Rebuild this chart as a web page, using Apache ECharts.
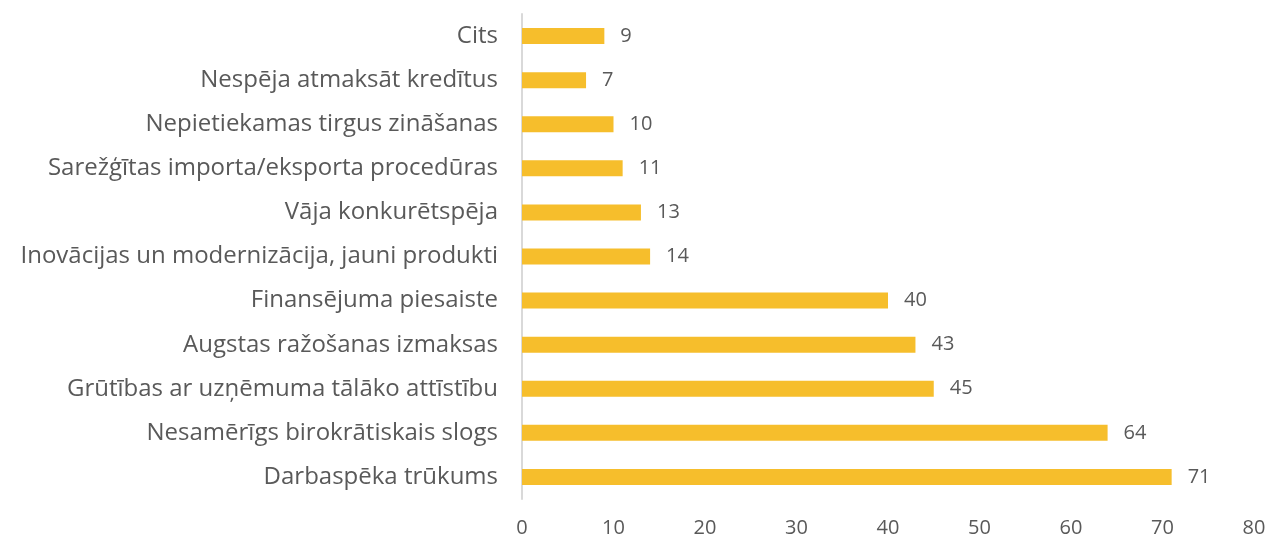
<!DOCTYPE html>
<html>
<head>
<meta charset="utf-8">
<script src="https://cdn.jsdelivr.net/npm/echarts@6/dist/echarts.min.js"></script>
<style>
  html, body { margin: 0; padding: 0; background: #fff; }
  #main { width: 1268px; height: 538px; }
</style>
</head>
<body>
<div id="main"></div>
<script>
var chartDom = document.getElementById('main');
var myChart = echarts.init(chartDom);
var option;

// Categories, listed bottom to top as drawn
const categories = [
    'Darbaspēka trūkums',
    'Nesamērīgs birokrātiskais slogs',
    'Grūtības ar uzņēmuma tālāko attīstību',
    'Augstas ražošanas izmaksas',
    'Finansējuma piesaiste',
    'Inovācijas un modernizācija, jauni produkti',
    'Vāja konkurētspēja',
    'Sarežģītas importa/eksporta procedūras',
    'Nepietiekamas tirgus zināšanas',
    'Nespēja atmaksāt kredītus',
    'Cits'
];
// Values for each category
const values = [71, 64, 45, 43, 40, 14, 13, 11, 10, 7, 9];

const textColor = '#595959';
const fontFamily = '"Open Sans", "Noto Sans", sans-serif';

option = {
    animation: false,
    grid: {
      left: 522,
      right: 14,
      top: 14,
      bottom: 39,
      outerBoundsMode: 'none'
    },
    xAxis: {
      type: 'value',
      min: 0,
      max: 80,
      interval: 10,
      splitLine: { show: false },
      axisLine: { show: false },
      axisTick: { show: false },
      axisLabel: {
        color: textColor,
        fontFamily: fontFamily,
        fontSize: 20,
        margin: 19
      }
    },
    yAxis: {
      type: 'category',
      data: categories,
      axisLine: { lineStyle: { color: '#d9d9d9', width: 2 } },
      axisTick: { show: false },
      axisLabel: {
        color: textColor,
        fontFamily: fontFamily,
        fontSize: 24,
        margin: 24
      }
    },
    series: [{
      type: 'bar',
      data: values,
      barWidth: 16,
      itemStyle: { color: '#F6BE2C' },
      label: {
        show: true,
        position: 'right',
        distance: 16,
        color: textColor,
        fontFamily: fontFamily,
        fontSize: 20
      }
    }]
  };

option && myChart.setOption(option);
</script>
</body>
</html>
